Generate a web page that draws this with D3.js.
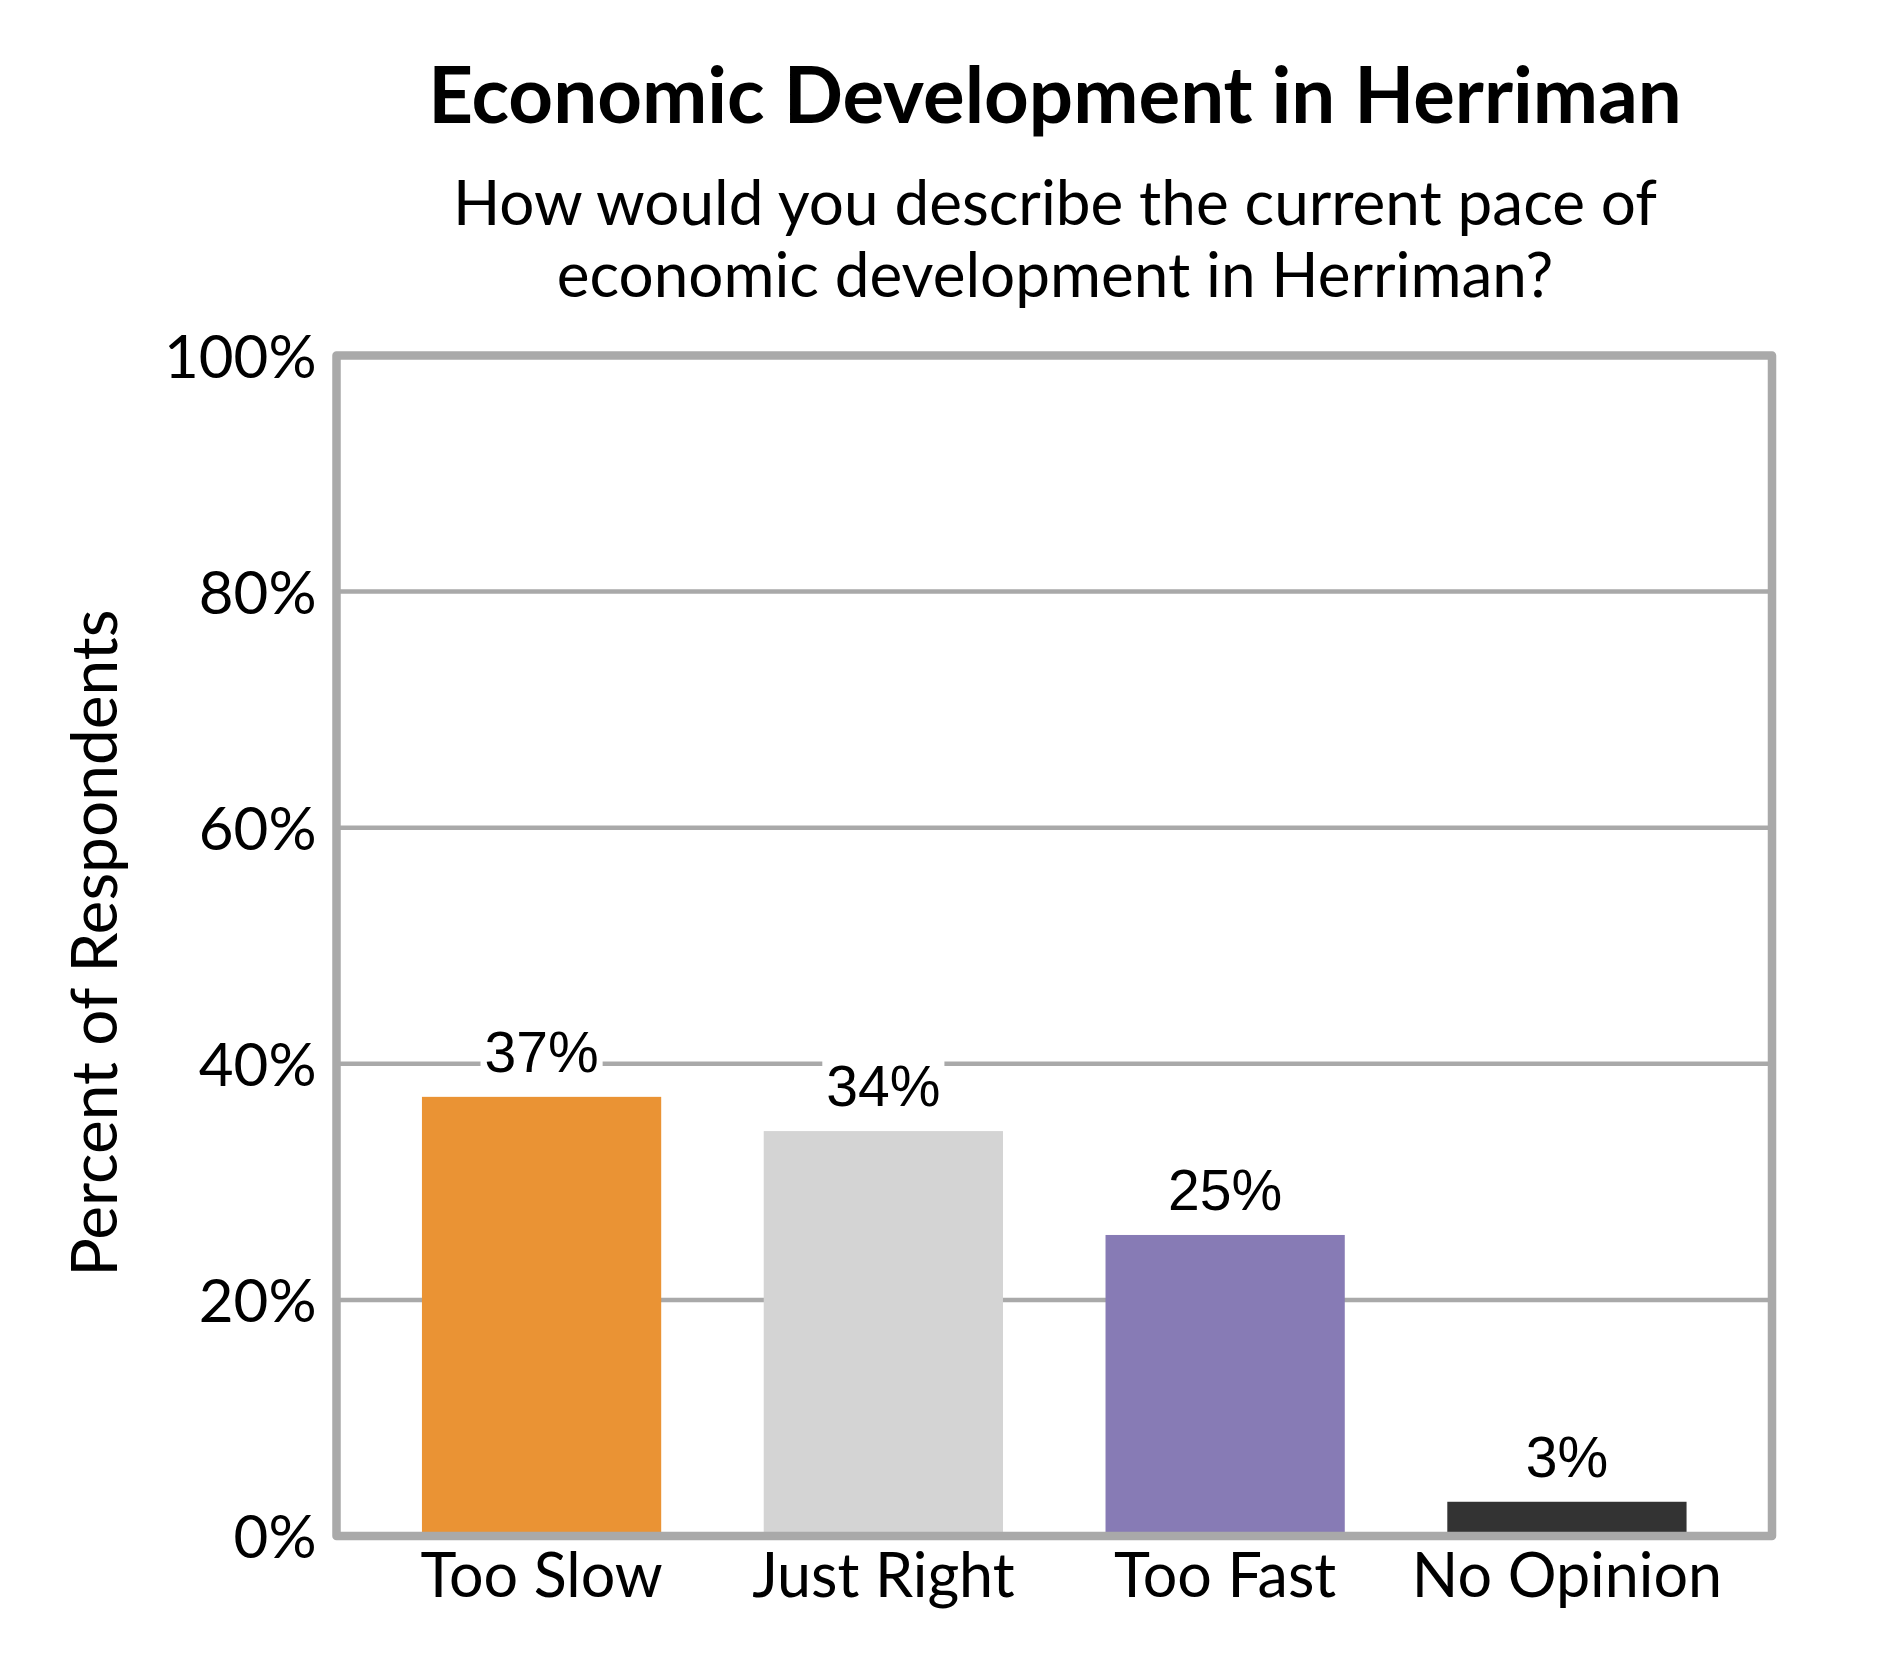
<!DOCTYPE html>
<meta charset="utf-8">
<style>
  body { margin: 0; background: #fff; }
  text { font-family: Lato, "Open Sans", sans-serif; fill: #000; }
  .value-label { font-family: "Liberation Sans", Arial, sans-serif; }
</style>
<body>
<div id="vis"></div>
<script src="https://cdn.jsdelivr.net/npm/d3@7"></script>
<script>

const width = 1890,
    height = 1680;

const categories = ['Too Slow', 'Just Right', 'Too Fast', 'No Opinion'];
const values = [37.2, 34.3, 25.5, 2.9];
const labels = ['37%', '34%', '25%', '3%'];
const colors = ['#ea9334', '#d4d4d4', '#877bb5', '#333333'];
const yTicks = [0, 20, 40, 60, 80, 100];

const frameColor = '#a9a9a9';

const svg = d3.select('#vis')
    .append('svg')
    .attr('width', width)
    .attr('height', height);

const plot = {left: 336.5, right: 1772, top: 355.5, bottom: 1536};

const x = d3.scaleBand()
    .domain(categories)
    .range([plot.left, plot.right])
    .paddingInner(0.3)
    .paddingOuter(0.25);

const y = d3.scaleLinear()
    .domain([0, 100])
    .range([plot.bottom, plot.top]);

// title + question
svg.append('text')
    .attr('x', 1055)
    .attr('y', 123)
    .style('font-size', '78px')
    .style('font-weight', 'bold')
    .style('text-anchor', 'middle')
    .text('Economic Development in Herriman');

const sub = svg.append('text')
    .style('font-size', '62px')
    .style('text-anchor', 'middle');
sub.append('tspan').attr('x', 1055).attr('y', 225)
    .text('How would you describe the current pace of');
sub.append('tspan').attr('x', 1055).attr('y', 297)
    .text('economic development in Herriman?');

// gridlines (behind bars)
svg.append('g')
    .selectAll('line')
    .data(yTicks.filter(d => d > 0 && d < 100))
    .enter().append('line')
    .attr('x1', plot.left)
    .attr('x2', plot.right)
    .attr('y1', d => y(d))
    .attr('y2', d => y(d))
    .style('stroke', frameColor)
    .style('stroke-width', 4.5);

// y tick labels
const yAxis = d3.axisLeft(y)
    .tickValues(yTicks)
    .tickFormat(d => d + '%')
    .tickSize(0)
    .tickPadding(20);
const yAxisG = svg.append('g')
    .attr('transform', 'translate(' + plot.left + ',0)')
    .call(yAxis);
yAxisG.select('.domain').remove();
yAxisG.selectAll('text')
    .style('font-family', 'Lato, sans-serif')
    .style('font-size', '60px')
    .attr('dy', '0.36em')
    .style('fill', '#000');

svg.append('text')
    .attr('transform', 'translate(117,943) rotate(-90)')
    .style('font-size', '64px')
    .style('text-anchor', 'middle')
    .text('Percent of Respondents');

// bars
svg.append('g')
    .selectAll('rect')
    .data(values)
    .enter().append('rect')
    .attr('x', (d, i) => x(categories[i]))
    .attr('width', x.bandwidth())
    .attr('y', d => y(d))
    .attr('height', d => y(0) - y(d))
    .style('fill', (d, i) => colors[i]);

// frame on top of bars
svg.append('rect')
    .attr('x', plot.left)
    .attr('y', plot.top)
    .attr('width', plot.right - plot.left)
    .attr('height', plot.bottom - plot.top)
    .style('fill', 'none')
    .style('stroke', frameColor)
    .style('stroke-width', 8.5)
    .style('stroke-linejoin', 'round');

// value labels with white backing over gridlines
const valG = svg.append('g');
values.forEach((v, i) => {
  let g = valG.append('g');
  let t = g.append('text')
      .attr('class', 'value-label')
      .attr('x', x(categories[i]) + x.bandwidth() / 2)
      .attr('y', y(v) - 25)
      .style('font-size', '57px')
      .style('text-anchor', 'middle')
      .text(labels[i]);
  let bb = t.node().getBBox();
  g.insert('rect', 'text')
      .attr('x', bb.x - 4)
      .attr('y', bb.y + 4)
      .attr('width', bb.width + 8)
      .attr('height', bb.height - 8)
      .style('fill', '#fff');
});

// category labels
const xAxis = d3.axisBottom(x).tickSize(0).tickPadding(0);
const xAxisG = svg.append('g')
    .attr('transform', 'translate(0,' + plot.bottom + ')')
    .call(xAxis);
xAxisG.select('.domain').remove();
xAxisG.selectAll('text')
    .style('font-family', 'Lato, sans-serif')
    .style('font-size', '61px')
    .style('fill', '#000')
    .attr('dy', null)
    .attr('y', 61);

</script>
</body>
